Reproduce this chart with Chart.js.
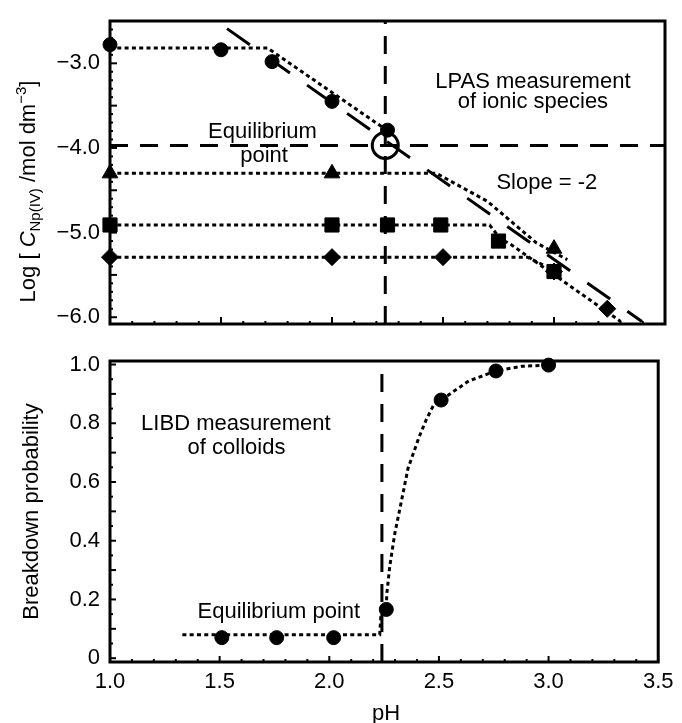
<!DOCTYPE html>
<html>
<head>
<meta charset="utf-8">
<script src="https://cdn.jsdelivr.net/npm/chart.js@4.4.1/dist/chart.umd.min.js"></script>
<style>
  html, body { margin: 0; padding: 0; background: #fff; }
  #wrap { position: relative; width: 682px; height: 723px; overflow: hidden; background: #fff; }
  #topPanel { position: absolute; left: 0; top: 0; }
  #bottomPanel { position: absolute; left: 0; top: 340px; }
</style>
</head>
<body>
<div id="wrap">
  <canvas id="topPanel" width="682" height="345"></canvas>
  <canvas id="bottomPanel" width="682" height="383"></canvas>
</div>
<script>
// ---- axis ticks ----
const pHTicks = [1.0, 1.5, 2.0, 2.5, 3.0, 3.5];
const logTicks = [-3.0, -4.0, -5.0, -6.0];
const probTicks = [0, 0.2, 0.4, 0.6, 0.8, 1.0];

// ---- equilibrium point ----
const eqPH = [2.24];
const eqLogC = [-3.97];

// ---- LPAS: log C of Np(IV) ionic species ----
const circlePH = [1.0, 1.5, 1.73, 2.0, 2.25];
const circleLogC = [-2.78, -2.84, -2.98, -3.45, -3.79];
const trianglePH = [1.0, 2.0, 3.0];
const triangleLogC = [-4.30, -4.30, -5.19];
const squarePH = [1.0, 2.0, 2.25, 2.49, 2.75, 3.0];
const squareLogC = [-4.91, -4.91, -4.91, -4.91, -5.10, -5.46];
const diamondPH = [1.0, 2.0, 2.5, 3.0, 3.24];
const diamondLogC = [-5.29, -5.29, -5.29, -5.46, -5.90];

// dotted guides for each series
const circleGuidePH = [1.0, 1.71, 2.23];
const circleGuideLogC = [-2.82, -2.82, -3.76];
const triangleGuidePH = [1.0, 2.47, 2.70, 2.92, 3.06];
const triangleGuideLogC = [-4.30, -4.30, -4.63, -5.12, -5.32];
const squareGuidePH = [1.0, 2.71, 2.76, 2.80, 3.30];
const squareGuideLogC = [-4.91, -4.91, -5.08, -5.13, -6.05];
const diamondGuidePH = [1.0, 2.88, 2.95];
const diamondGuideLogC = [-5.29, -5.29, -5.38];

// slope = -2 reference line
const slopePH = [1.527, 3.396];
const slopeLogC = [-2.59, -6.05];

// ---- LIBD: breakdown probability of colloids ----
const libdPH = [1.51, 1.76, 2.02, 2.26, 2.51, 2.76, 3.0];
const libdProb = [0.07, 0.07, 0.07, 0.166, 0.879, 0.978, 0.998];
const trendPH = [1.33, 2.23, 2.235, 2.26, 2.262, 2.276, 2.299, 2.329, 2.359, 2.411, 2.441, 2.479, 2.51, 2.636, 2.76, 2.877, 3.0];
const trendProb = [0.08, 0.08, 0.14, 0.166, 0.216, 0.314, 0.425, 0.535, 0.646, 0.756, 0.81, 0.867, 0.879, 0.944, 0.978, 0.994, 0.998];

const FONT = '"Liberation Sans", Arial, Helvetica, sans-serif';
Chart.defaults.font.family = FONT;
Chart.defaults.color = '#000';

const pts = (xs, ys) => xs.map((x, i) => ({ x, y: ys[i] }));

const INK = '#000';
const DOT = [4, 3.3];

function markers(xs, ys, style, r) {
  return {
    data: pts(xs, ys), showLine: false, pointStyle: style, pointRadius: r,
    pointBackgroundColor: INK, pointBorderColor: INK, pointBorderWidth: 1, clip: false
  };
}
function line(data, dash, width) {
  return {
    data, borderColor: INK, borderWidth: width || 3, borderDash: dash, borderCapStyle: 'butt',
    pointRadius: 0, fill: false, tension: 0, clip: false
  };
}

// frame and inward tick marks
const frameTicks = {
  id: 'frameTicks',
  afterDatasetsDraw(chart, args, o) {
    const { ctx, chartArea: a, scales: { x, y } } = chart;
    ctx.save();
    ctx.strokeStyle = INK;
    ctx.lineWidth = 2;
    const run = (scale, step, major, draw) => {
      const start = Math.ceil(scale.min / step - 1e-6);
      const end = Math.floor(scale.max / step + 1e-6);
      for (let k = start; k <= end; k++) {
        const v = k * step;
        const isMajor = Math.abs(v / major - Math.round(v / major)) < 1e-6;
        draw(scale.getPixelForValue(v), isMajor ? o.majorLen : o.minorLen);
      }
    };
    run(x, o.xStep, o.xMajor, (px, len) => {
      ctx.beginPath(); ctx.moveTo(px, a.bottom); ctx.lineTo(px, a.bottom - len); ctx.stroke();
    });
    run(y, o.yStep, o.yMajor, (py, len) => {
      ctx.beginPath(); ctx.moveTo(a.left, py); ctx.lineTo(a.left + len, py); ctx.stroke();
    });
    ctx.lineWidth = 3;
    ctx.strokeRect(a.left, a.top, a.right - a.left, a.bottom - a.top);
    ctx.restore();
  }
};

function drawRich(ctx, parts, cx, cy, rot) {
  ctx.save();
  ctx.translate(cx, cy);
  ctx.rotate(rot);
  let total = 0;
  parts.forEach(p => { ctx.font = p.font; p.w = ctx.measureText(p.text).width; total += p.w; });
  let x = -total / 2;
  ctx.textAlign = 'left';
  ctx.textBaseline = 'alphabetic';
  ctx.fillStyle = INK;
  parts.forEach(p => { ctx.font = p.font; ctx.fillText(p.text, x, p.dy || 0); x += p.w; });
  ctx.restore();
}

// in-plot labels and axis titles
const notes = {
  id: 'notes',
  afterDraw(chart, args, o) {
    const { ctx, scales: { x, y }, chartArea: a } = chart;
    ctx.save();
    ctx.fillStyle = INK;
    ctx.font = '22px ' + FONT;
    ctx.textAlign = 'center';
    ctx.textBaseline = 'alphabetic';
    (o.labels || []).forEach(l => {
      ctx.fillText(l.text, x.getPixelForValue(l.x), y.getPixelForValue(l.y));
    });
    ctx.restore();
    if (o.title) drawRich(ctx, o.title, o.titleX, (a.top + a.bottom) / 2 + o.titleShift, -Math.PI / 2);
    if (o.xTitle) {
      ctx.save();
      ctx.fillStyle = INK;
      ctx.font = '22px ' + FONT;
      ctx.textAlign = 'center';
      ctx.textBaseline = 'alphabetic';
      ctx.fillText(o.xTitle, (a.left + a.right) / 2 + 2, a.bottom + o.xTitleGap);
      ctx.restore();
    }
  }
};

const tickFont = { family: FONT, size: 22, lineHeight: 1 };
const F22 = '22px ' + FONT;
const F15 = '15px ' + FONT;

// ---------- upper panel: LPAS ----------
new Chart(document.getElementById('topPanel'), {
  type: 'line',
  data: {
    datasets: [
      { ...markers(eqPH, eqLogC, 'circle', 13), pointBackgroundColor: 'rgba(0,0,0,0)', pointBorderWidth: 3 },
      markers(circlePH, circleLogC, 'circle', 7),
      markers(trianglePH, triangleLogC, 'triangle', 9),
      markers(squarePH, squareLogC, 'rect', 10),
      markers(diamondPH, diamondLogC, 'rectRot', 8.5),
      line(pts(slopePH, slopeLogC), [28, 21], 3),
      line(pts(circleGuidePH, circleGuideLogC), DOT),
      line(pts(triangleGuidePH, triangleGuideLogC), DOT),
      line(pts(squareGuidePH, squareGuideLogC), DOT),
      line(pts(diamondGuidePH, diamondGuideLogC), DOT),
      line(pts([pHTicks[0], pHTicks[pHTicks.length - 1]], [eqLogC[0], eqLogC[0]]), [18, 12], 3),
      line(pts([eqPH[0], eqPH[0]], [-6.08, -2.5]), [18, 12], 3)
    ]
  },
  options: {
    responsive: false, animation: false, events: [],
    layout: { padding: { left: 0, right: 17, top: 13, bottom: 12 } },
    scales: {
      x: { type: 'linear', min: 1.0, max: 3.5, display: false },
      y: {
        type: 'linear', min: -6.08, max: -2.5,
        grid: { display: false, drawTicks: false }, border: { display: false },
        afterBuildTicks: s => { s.ticks = logTicks.map(v => ({ value: v })); },
        afterFit: s => { s.width = 110; },
        ticks: { font: tickFont, padding: 10, color: INK,
          callback: v => (v < 0 ? '\u2212' : '') + Math.abs(v).toFixed(1) }
      }
    },
    plugins: {
      legend: { display: false }, tooltip: { enabled: false },
      frameTicks: { xStep: 0.1, xMajor: 0.5, yStep: 0.1, yMajor: 0.5, majorLen: 7, minorLen: 3 },
      notes: {
        labels: [
          { text: 'LPAS measurement', x: 2.905, y: -3.294 },
          { text: 'of ionic species', x: 2.905, y: -3.529 },
          { text: 'Equilibrium', x: 1.687, y: -3.884 },
          { text: 'point', x: 1.694, y: -4.167 },
          { text: 'Slope = -2', x: 2.968, y: -4.48 }
        ],
        title: [
          { text: 'Log [ ', font: F22 },
          { text: 'C', font: 'italic ' + F22 },
          { text: 'Np(IV)', font: F15, dy: 5 },
          { text: ' /mol dm', font: F22 },
          { text: '\u22123', font: F15, dy: -9 },
          { text: ']', font: F22 }
        ],
        titleX: 35, titleShift: 19
      }
    }
  },
  plugins: [frameTicks, notes]
});

// ---------- lower panel: LIBD ----------
new Chart(document.getElementById('bottomPanel'), {
  type: 'line',
  data: {
    datasets: [
      markers(libdPH, libdProb, 'circle', 7),
      line(pts(trendPH, trendProb), DOT),
      line(pts([eqPH[0], eqPH[0]], [-0.013, 1.012]), [18, 12], 3)
    ]
  },
  options: {
    responsive: false, animation: false, events: [],
    layout: { padding: { left: 0, right: 17, top: 13, bottom: 0 } },
    scales: {
      x: {
        type: 'linear', min: 1.0, max: 3.5,
        grid: { display: false, drawTicks: false }, border: { display: false },
        afterBuildTicks: s => { s.ticks = pHTicks.map(v => ({ value: v })); },
        afterFit: s => { s.height = 61; },
        ticks: { font: tickFont, padding: 8.5, color: INK, maxRotation: 0, callback: v => v.toFixed(1) }
      },
      y: {
        type: 'linear', min: -0.013, max: 1.012,
        grid: { display: false, drawTicks: false }, border: { display: false },
        afterBuildTicks: s => { s.ticks = probTicks.map(v => ({ value: v })); },
        afterFit: s => { s.width = 110; },
        ticks: { font: tickFont, padding: 10, color: INK, callback: v => (v === 0 ? '0' : v.toFixed(1)) }
      }
    },
    plugins: {
      legend: { display: false }, tooltip: { enabled: false },
      frameTicks: { xStep: 0.1, xMajor: 0.5, yStep: 0.05, yMajor: 0.1, majorLen: 6, minorLen: 3 },
      notes: {
        labels: [
          { text: 'LIBD measurement', x: 1.574, y: 0.776 },
          { text: 'of colloids', x: 1.577, y: 0.697 },
          { text: 'Equilibrium point', x: 1.77, y: 0.136 }
        ],
        title: [ { text: 'Breakdown probability', font: F22 } ],
        titleX: 38, titleShift: 0,
        xTitle: 'pH', xTitleGap: 58
      }
    }
  },
  plugins: [frameTicks, notes]
});
</script>
</body>
</html>
